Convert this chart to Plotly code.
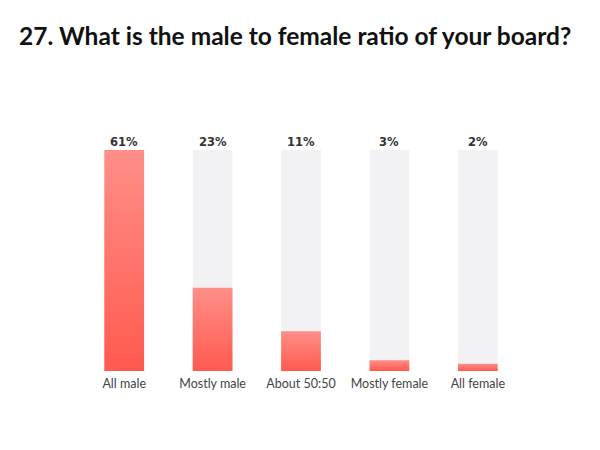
import plotly.graph_objects as go

categories = ["All male", "Mostly male", "About 50:50", "Mostly female", "All female"]
values = [61, 23, 11, 3, 2]
labels = ["61%", "23%", "11%", "3%", "2%"]
y_max = 61

fig = go.Figure()
idx = list(range(len(categories)))
half = 0.225

# background track bars
fig.add_trace(go.Bar(x=idx, y=[y_max] * len(idx), width=0.45,
                     marker=dict(color="#f2f2f5", line=dict(width=0)),
                     hoverinfo="skip", showlegend=False))

for i, v in zip(idx, values):
    fig.add_trace(go.Scatter(
        x=[i - half, i + half, i + half, i - half, i - half],
        y=[0, 0, v, v, 0],
        mode="lines", line=dict(width=0), fill="toself",
        fillgradient=dict(type="vertical",
                          colorscale=[[0, "#ff5a4f"], [1, "#ff8f88"]]),
        hoverinfo="skip", showlegend=False))

for i, t in zip(idx, labels):
    fig.add_annotation(x=i, y=y_max, text="<b>" + t + "</b>", showarrow=False,
                       yanchor="bottom", yshift=-1,
                       font=dict(family="DejaVu Sans", size=11.5, color="#333333"))

fig.update_layout(
    width=592, height=442,
    margin=dict(l=72, r=78, t=142, b=79),
    paper_bgcolor="white", plot_bgcolor="white",
    title=dict(text="<b>27. What is the male to female ratio of your board?</b>",
               x=11 / 592, xanchor="left", y=1 - 28 / 442, yanchor="middle",
               font=dict(family="Lato", size=24.5, color="#111111")),
    xaxis=dict(range=[-0.5, 4.5], tickvals=idx, ticktext=categories,
               showgrid=False, zeroline=False, showline=False, ticks="",
               ticklabelstandoff=3,
               tickfont=dict(family="Lato", size=12.5, color="#444444")),
    yaxis=dict(range=[0, y_max], visible=False, showgrid=False),
    bargap=0.5,
)

fig.write_html("out.html")
